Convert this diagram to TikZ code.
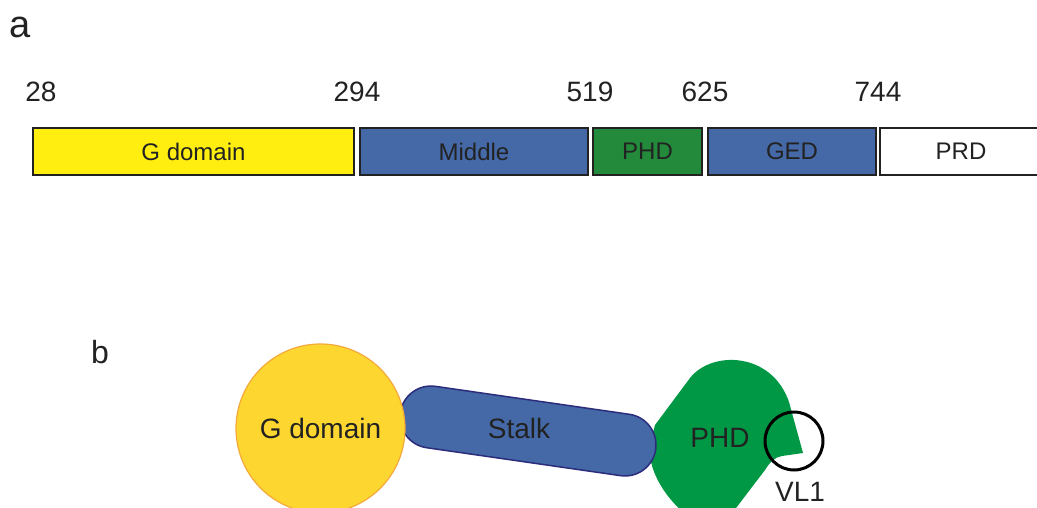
\documentclass[tikz,border=0pt]{standalone}
\usepackage{fontspec}
\setmainfont{Liberation Sans}
\definecolor{dyellow}{HTML}{FFEE10}
\definecolor{dblue}{HTML}{4469A6}
\definecolor{dgreen}{HTML}{238A3C}
\definecolor{gold}{HTML}{FDD730}
\definecolor{goldline}{HTML}{F4A93A}
\definecolor{navy}{HTML}{2C2C7C}
\definecolor{bgreen}{HTML}{009845}
\definecolor{ink}{HTML}{222222}
\begin{document}
\begin{tikzpicture}[
        x=1pt, y=-1pt,
        every node/.style={text=ink, inner sep=0pt},
        dom_box/.style={draw=ink, line width=1.8pt, rectangle, minimum height=47pt,
            font=\fontsize{24}{28}\selectfont},
        pos_num/.style={font=\fontsize{28}{32}\selectfont},
        panel_lbl/.style={font=\fontsize{38}{42}\selectfont},
        part_lbl/.style={font=\fontsize{28}{32}\selectfont},
        stalk_body/.style={draw=navy, line width=1.5pt, fill=dblue, rectangle,
            minimum width=258pt, minimum height=62pt, rounded corners=31pt}
        ]
    \useasboundingbox (0,0) rectangle (1037,508);
    \fill[white] (0,0) rectangle (1037,508);

    \node[panel_lbl] (pa) at (20,27) {a};
    \node[panel_lbl, font=\fontsize{32}{36}\selectfont] (pb) at (100,352) {b};

    \node[pos_num] (n28) at (41,92) {28};
    \node[pos_num] (n294) at (357,92) {294};
    \node[pos_num] (n519) at (590,92) {519};
    \node[pos_num] (n625) at (705,92) {625};
    \node[pos_num] (n744) at (878,92) {744};

    \node[dom_box, fill=dyellow, minimum width=321pt] (gdom) at (193.5,151.5) {G domain};
    \node[dom_box, fill=dblue, minimum width=228pt] (mid) at (474,151.5) {Middle};
    \node[dom_box, fill=dgreen, minimum width=109pt] (phd) at (647.5,151.5) {PHD};
    \node[dom_box, fill=dblue, minimum width=168pt] (ged) at (792,151.5) {GED};
    \node[dom_box, fill=white, minimum width=162pt] (prd) at (961,151.5) {PRD};

    \fill[bgreen] (655,425) -- (690,378) .. controls (712,350) and (772,352) .. (789,402)
        -- (803,453) -- (782,456) .. controls (775,457) and (770,462) .. (765,470)
        -- (733,512) -- (683,512) .. controls (660,492) and (645,462) .. (651,440) -- cycle;
    \node[stalk_body, rotate=-8.2] (stalk) at (528,431) {};
    \node[part_lbl] (stalklbl) at (519,428) {Stalk};
    \node[circle, fill=gold, draw=goldline, line width=1.2pt, minimum size=169pt,
        part_lbl] (gball) at (320.5,428.5) {G domain};
    \node[part_lbl] (phdlbl) at (720,438) {PHD};
    \node[circle, draw=black, line width=3pt, minimum size=58pt] (vl) at (794,441) {};
    \node[part_lbl] (vllbl) at (800,492) {VL1};
\end{tikzpicture}
\end{document}
